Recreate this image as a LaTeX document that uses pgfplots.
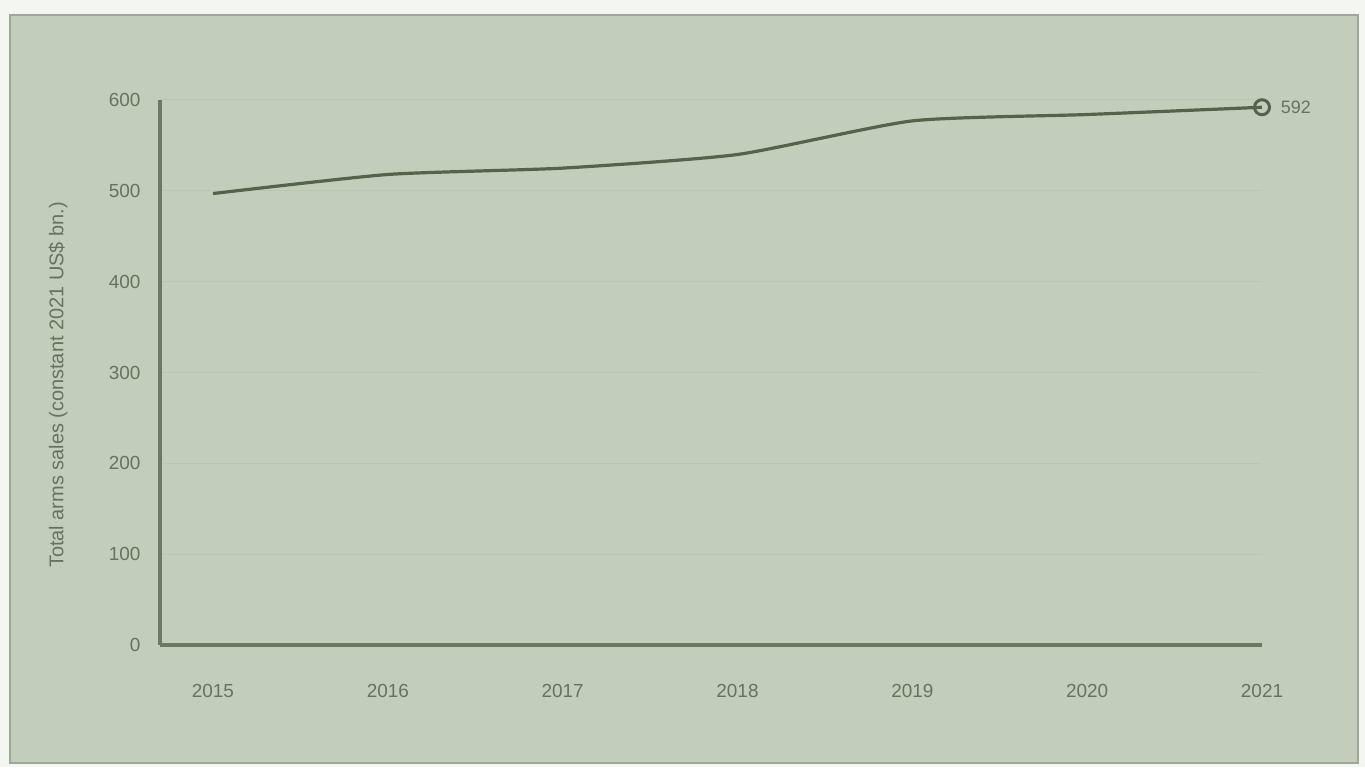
\documentclass[border=0pt]{standalone}
\usepackage{pgfplots}
\pgfplotsset{compat=1.18}
\usepackage{fontspec}
\setmainfont{Liberation Sans}
\definecolor{bgc}{HTML}{C3CDBB}
\definecolor{outc}{HTML}{F4F7F1}
\definecolor{framec}{HTML}{9DA898}
\definecolor{linec}{HTML}{53634C}
\definecolor{axc}{HTML}{6A7864}
\definecolor{txtc}{HTML}{66735F}
\definecolor{gridc}{HTML}{BBC6B3}
\begin{document}
\begin{tikzpicture}[x=1bp,y=1bp]
% whole picture and frame (axis box south west corner at (0,0))
\fill[outc] (-160,-122) rectangle (1205,645);
\filldraw[fill=bgc, draw=framec, line width=2bp] (-150,-118) rectangle (1198,630);
\begin{axis}[
  at={(0,0)}, anchor=south west,
  scale only axis, width=1102bp, height=545bp,
  xmin=2014.697, xmax=2021, ymin=0, ymax=600,
  clip=false,
  axis x line=bottom, axis y line=left,
  axis line style={-, line width=4bp, draw=axc},
  xtick={2015,2016,2017,2018,2019,2020,2021},
  ytick={0,100,200,300,400,500,600},
  xticklabel style={/pgf/number format/1000 sep={}},
  major tick length=0pt,
  ymajorgrids, grid style={gridc, line width=1bp},
  /pgf/number format/assume math mode=true,
  tick label style={font=\fontsize{19}{21}\selectfont, text=txtc},
  xticklabel style={yshift=-36bp},
  yticklabel style={xshift=-16bp},
  ylabel={Total arms sales (constant 2021 US\$ bn.)},
  every axis y label/.style={at={(axis description cs:-0.0926,0.477)}, rotate=90, anchor=center, font=\fontsize{20}{22}\selectfont, text=txtc},
]
\addplot[linec, line width=3.2bp, smooth, tension=0.35] coordinates {
(2015,497) (2016,518) (2017,525) (2018,540) (2019,577) (2020,584) (2021,592)
};
\addplot[only marks, mark=o, mark size=7.5bp, mark options={line width=3bp, draw=linec, fill=bgc},
  nodes near coords, point meta=explicit symbolic,
  every node near coord/.style={anchor=west, xshift=14bp, font=\fontsize{18}{20}\selectfont, text=txtc}]
coordinates {(2021,592) [592]};
\end{axis}
\end{tikzpicture}
\end{document}
